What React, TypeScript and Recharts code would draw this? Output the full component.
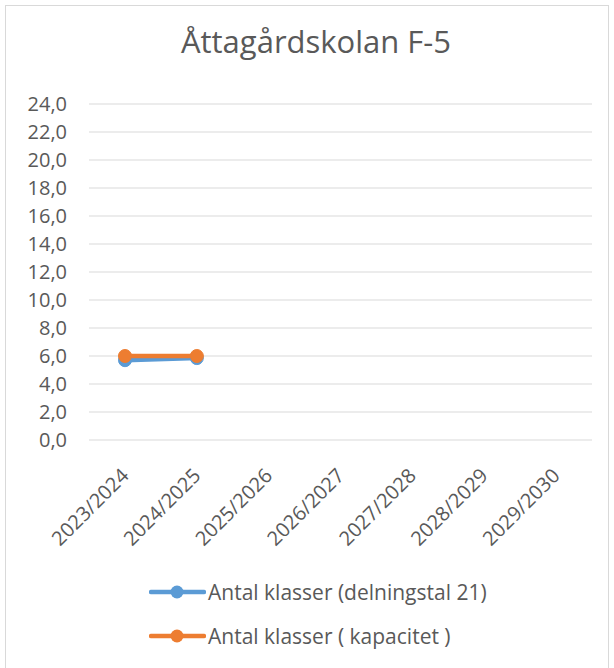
import { CartesianGrid, Legend, Line, LineChart, XAxis, YAxis } from "recharts";

const years = ["2023/2024", "2024/2025", "2025/2026", "2026/2027", "2027/2028", "2028/2029", "2029/2030"];
const klasserDelningstal = [5.7, 5.85, null, null, null, null, null];
const klasserKapacitet = [6.0, 6.0, null, null, null, null, null];
const yTicks = [0, 2, 4, 6, 8, 10, 12, 14, 16, 18, 20, 22, 24];
const seriesNames = ["Antal klasser (delningstal 21)", "Antal klasser ( kapacitet )"];

const data = years.map((year, i) => ({
  year,
  delningstal: klasserDelningstal[i],
  kapacitet: klasserKapacitet[i],
}));

const FONT = "'Open Sans', 'Liberation Sans', sans-serif";
const TEXT = "#595959";

function XTick({ x, y, payload }: any) {
  const tx = x + 5;
  const ty = y + 29;
  return (
    <text x={tx} y={ty} transform={`rotate(-45, ${tx}, ${ty})`} textAnchor="end" fill={TEXT} fontSize={20} fontFamily={FONT}>
      {payload.value}
    </text>
  );
}

function LegendContent({ payload }: any) {
  const items = [...(payload || [])].sort((a: any, b: any) => seriesNames.indexOf(a.value) - seriesNames.indexOf(b.value));
  return (
    <div style={{ height: 90, fontFamily: FONT, fontSize: 21, color: TEXT }}>
      {items.map((p: any) => (
        <div key={p.value} style={{ height: 44, display: "flex", alignItems: "center", paddingLeft: 143 }}>
          <svg width={57} height={14} style={{ marginRight: 2 }}>
            <line x1={2} y1={7} x2={55} y2={7} stroke={p.color} strokeWidth={4.5} strokeLinecap="round" />
            <circle cx={28} cy={7} r={6.5} fill={p.color} />
          </svg>
          <span>{p.value}</span>
        </div>
      ))}
    </div>
  );
}

export default function App() {
  return (
    <div
      style={{
        position: "absolute",
        left: 5,
        top: 5,
        width: 604,
        height: 690,
        border: "1px solid #d9d9d9",
        background: "#fff",
        boxSizing: "border-box",
      }}
    >
      <div
        style={{
          position: "absolute",
          top: 15,
          left: 18,
          right: 0,
          textAlign: "center",
          fontFamily: FONT,
          fontSize: 31,
          color: TEXT,
          lineHeight: "40px",
        }}
      >
        Åttagårdskolan F-5
      </div>
      <LineChart width={602} height={661} data={data} margin={{ top: 98, right: 16, left: 0, bottom: 37 }}>
        <CartesianGrid stroke="#d9d9d9" vertical={false} />
        <XAxis
          dataKey="year"
          interval={0}
          tick={<XTick />}
          tickLine={false}
          axisLine={false}
          height={100}
          padding={{ left: 36, right: 36 }}
        />
        <YAxis
          domain={[0, 24]}
          ticks={yTicks}
          interval={0}
          tickFormatter={(v: number) => v.toFixed(1).replace(".", ",")}
          tick={{ fill: TEXT, fontSize: 20, fontFamily: FONT }}
          tickLine={false}
          axisLine={false}
          tickSize={0}
          tickMargin={22}
          width={83}
        />
        <Legend
          verticalAlign="bottom"
          content={<LegendContent />}
          wrapperStyle={{ top: 564, bottom: "auto", left: 0, width: 602 }}
        />
        <Line
          dataKey="delningstal"
          name={seriesNames[0]}
          stroke="#5B9BD5"
          strokeWidth={4.5}
          dot={{ r: 6.5, fill: "#5B9BD5", stroke: "#5B9BD5", strokeWidth: 1 }}
          isAnimationActive={false}
        />
        <Line
          dataKey="kapacitet"
          name={seriesNames[1]}
          stroke="#ED7D31"
          strokeWidth={4.5}
          dot={{ r: 6.5, fill: "#ED7D31", stroke: "#ED7D31", strokeWidth: 1 }}
          isAnimationActive={false}
        />
      </LineChart>
    </div>
  );
}
